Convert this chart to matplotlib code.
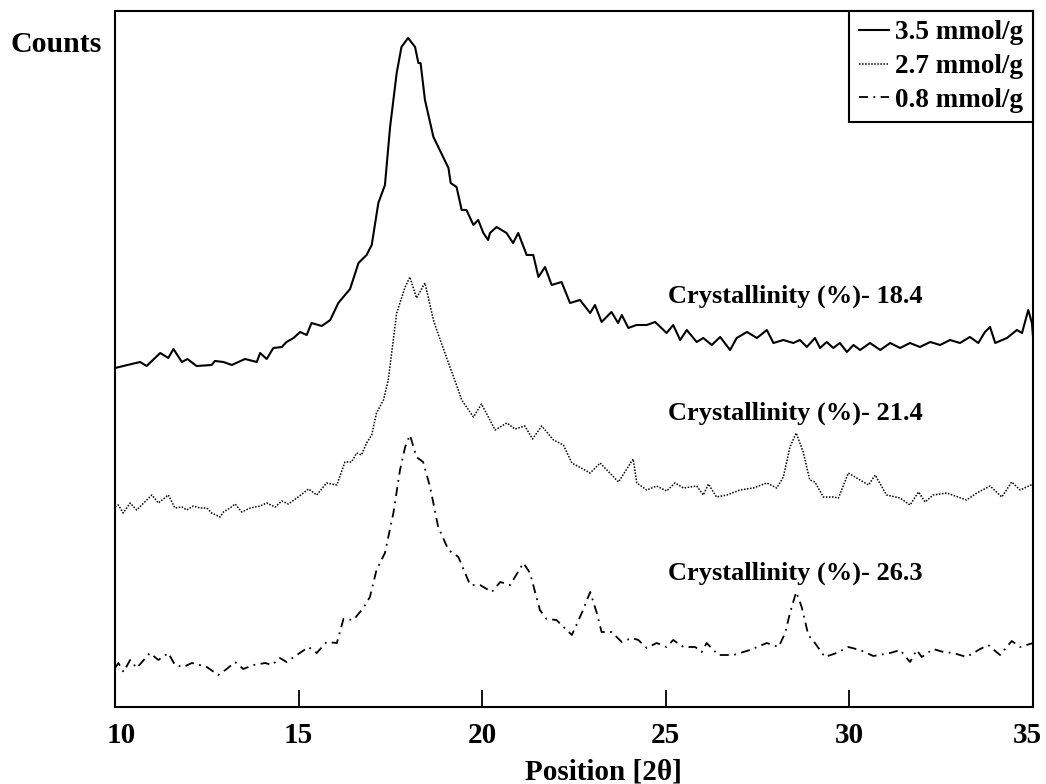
import matplotlib
matplotlib.use('Agg')
import matplotlib.pyplot as plt
import matplotlib.transforms as mtransforms

plt.rcParams['font.family'] = ['Liberation Serif', 'DejaVu Serif']
plt.rcParams['font.weight'] = 'bold'

# XRD patterns (stacked, arbitrary counts)
x_35 = [10.00, 10.68, 10.86, 11.23, 11.45, 11.59, 11.82, 11.97, 12.22, 12.63,
        12.72, 12.95, 13.18, 13.54, 13.86, 13.95, 14.13, 14.31, 14.54, 14.67,
        14.86, 15.04, 15.22, 15.35, 15.63, 15.86, 16.08, 16.40, 16.63, 16.85,
        16.99, 17.17, 17.35, 17.49, 17.67, 17.80, 17.98, 18.17, 18.26, 18.32,
        18.44, 18.67, 19.08, 19.14, 19.30, 19.44, 19.57, 19.76, 19.89, 20.03,
        20.16, 20.21, 20.39, 20.66, 20.84, 20.98, 21.21, 21.39, 21.53, 21.71,
        21.89, 22.16, 22.39, 22.66, 22.94, 23.07, 23.25, 23.52, 23.70, 23.80,
        23.98, 24.20, 24.48, 24.71, 25.02, 25.20, 25.39, 25.57, 25.84, 26.02,
        26.25, 26.48, 26.75, 26.93, 27.21, 27.48, 27.75, 27.93, 28.20, 28.47,
        28.65, 28.84, 29.06, 29.20, 29.38, 29.56, 29.74, 29.93, 30.11, 30.29,
        30.56, 30.84, 31.11, 31.38, 31.65, 31.92, 32.20, 32.47, 32.74, 33.01,
        33.28, 33.51, 33.69, 33.83, 33.97, 34.29, 34.56, 34.70, 34.87, 34.97,
        35.00]
y_35 = [339, 345, 341, 354, 349, 358, 345, 348, 341, 342,
        346, 345, 342, 348, 345, 354, 348, 359, 360, 365,
        369, 375, 372, 384, 381, 387, 404, 418, 444, 452,
        462, 504, 522, 580, 634, 660, 669, 660, 644, 644,
        607, 570, 539, 524, 520, 497, 497, 482, 487, 474,
        467, 474, 480, 474, 464, 474, 452, 452, 430, 440,
        422, 425, 404, 407, 394, 402, 385, 395, 384, 392,
        379, 382, 382, 385, 374, 382, 367, 377, 365, 369,
        362, 370, 357, 369, 375, 369, 377, 364, 367, 364,
        367, 360, 369, 359, 365, 359, 364, 355, 362, 357,
        364, 357, 364, 359, 364, 360, 365, 362, 367, 364,
        370, 364, 375, 380, 364, 369, 377, 374, 397, 384,
        370]

x_27 = [10.00, 10.09, 10.22, 10.41, 10.59, 11.00, 11.18, 11.45, 11.63, 11.82,
        11.95, 12.13, 12.31, 12.50, 12.63, 12.86, 12.95, 13.13, 13.27, 13.45,
        13.68, 13.95, 14.13, 14.36, 14.54, 14.72, 14.95, 15.27, 15.49, 15.76,
        16.04, 16.26, 16.44, 16.58, 16.71, 16.85, 16.99, 17.12, 17.31, 17.44,
        17.67, 17.90, 18.03, 18.21, 18.44, 18.67, 18.76, 19.08, 19.30, 19.44,
        19.76, 19.98, 20.35, 20.67, 20.89, 21.16, 21.37, 21.62, 21.94, 22.21,
        22.44, 22.94, 23.21, 23.71, 24.11, 24.21, 24.48, 24.75, 25.02, 25.25,
        25.48, 25.84, 26.02, 26.16, 26.38, 26.66, 27.02, 27.38, 27.75, 28.02,
        28.20, 28.38, 28.55, 28.74, 28.92, 29.06, 29.29, 29.56, 29.70, 29.97,
        30.29, 30.52, 30.70, 31.01, 31.38, 31.65, 31.88, 32.06, 32.28, 32.65,
        33.19, 33.47, 33.83, 34.15, 34.42, 34.65, 35.00]
y_27 = [200, 202, 194, 204, 197, 212, 204, 212, 199, 200,
        197, 201, 199, 199, 194, 190, 195, 199, 203, 195,
        199, 201, 204, 200, 206, 203, 209, 218, 212, 224,
        222, 245, 245, 254, 252, 264, 272, 294, 307, 327,
        394, 420, 430, 409, 424, 387, 377, 344, 322, 307,
        290, 303, 277, 284, 278, 281, 268, 281, 267, 262,
        244, 234, 244, 225, 248, 224, 217, 221, 216, 224,
        219, 221, 212, 223, 210, 212, 217, 219, 224, 219,
        230, 260, 274, 255, 227, 225, 210, 210, 209, 234,
        227, 222, 232, 212, 209, 202, 215, 205, 212, 214,
        207, 214, 221, 210, 225, 217, 223]

x_08 = [10.00, 10.09, 10.23, 10.41, 10.59, 10.95, 11.18, 11.45, 11.63, 11.86,
        12.09, 12.31, 12.50, 12.81, 13.04, 13.27, 13.49, 13.77, 14.09, 14.27,
        14.49, 14.67, 14.95, 15.27, 15.49, 15.76, 16.04, 16.22, 16.49, 16.76,
        16.94, 17.12, 17.35, 17.58, 17.76, 17.90, 18.03, 18.21, 18.39, 18.58,
        18.80, 19.08, 19.35, 19.67, 19.94, 20.26, 20.49, 20.76, 21.12, 21.30,
        21.57, 21.75, 22.02, 22.44, 22.71, 22.94, 23.12, 23.25, 23.52, 23.80,
        24.07, 24.25, 24.48, 24.75, 25.02, 25.20, 25.48, 25.80, 25.98, 26.11,
        26.43, 26.84, 27.29, 27.75, 28.07, 28.25, 28.38, 28.55, 28.70, 28.88,
        29.06, 29.33, 29.65, 29.97, 30.29, 30.65, 31.11, 31.38, 31.65, 31.83,
        31.97, 32.28, 32.56, 32.83, 33.19, 33.56, 33.78, 34.10, 34.42, 34.65,
        35.00]
y_08 = [39, 44, 35, 47, 39, 54, 47, 54, 42, 40,
        44, 42, 40, 32, 38, 45, 38, 42, 44, 42,
        49, 45, 52, 60, 54, 65, 64, 88, 87, 99,
        110, 137, 154, 194, 237, 260, 272, 250, 245, 220,
        180, 157, 150, 122, 122, 115, 125, 122, 144, 134,
        97, 88, 87, 72, 94, 115, 94, 75, 75, 65,
        69, 67, 59, 64, 60, 67, 60, 60, 55, 64,
        52, 52, 57, 64, 60, 74, 94, 115, 100, 72,
        64, 50, 54, 60, 57, 51, 54, 57, 45, 57,
        50, 58, 55, 54, 50, 58, 62, 52, 66, 60,
        64]

labels = ['3.5 mmol/g', '2.7 mmol/g', '0.8 mmol/g']
crystallinity = ['Crystallinity (%)- 18.4', 'Crystallinity (%)- 21.4', 'Crystallinity (%)- 26.3']
label_y = [411, 294, 134]

fig = plt.figure(figsize=(10.46, 7.84), dpi=100)
ax = fig.add_axes([0.110, 0.0982, 0.8776, 0.8878])

ax.plot(x_35, y_35, color='black', lw=1.5, linestyle='-', label=labels[0])
ax.plot(x_27, y_27, color='black', lw=1.1, linestyle=(0, (1, 1)), label=labels[1])
ax.plot(x_08, y_08, color='black', lw=1.3, linestyle=(0, (5, 3, 1, 3)), label=labels[2])

for txt, yy in zip(crystallinity, label_y):
    ax.text(25.06, yy, txt, fontsize=19, fontweight='bold', ha='left', va='center')

ax.set_xlim(10, 35)
ax.set_ylim(0, 696)
ax.set_xticks([10, 15, 20, 25, 30, 35])
ax.set_yticks([])
ax.tick_params(axis='x', direction='in', length=12, width=1.3, labelsize=21, pad=11)
for lbl in ax.get_xticklabels():
    lbl.set_fontweight('bold')
for s in ax.spines.values():
    s.set_linewidth(1.5)

# nudge the edge tick labels inward like the original
ticklabels = ax.get_xticklabels()
ticklabels[0].set_transform(ticklabels[0].get_transform() +
                            mtransforms.ScaledTranslation(6 / 100, 0, fig.dpi_scale_trans))
ticklabels[-1].set_transform(ticklabels[-1].get_transform() +
                             mtransforms.ScaledTranslation(-6 / 100, 0, fig.dpi_scale_trans))

fig.text(603 / 1046, 1 - 772 / 784, 'Position [2θ]', fontsize=21, fontweight='bold',
         ha='center', va='center')
fig.text(56 / 1046, 1 - 44 / 784, 'Counts', fontsize=21.5, fontweight='bold',
         ha='center', va='center')

leg = ax.legend(loc='upper right', borderaxespad=0, fancybox=False, frameon=True,
                prop={'size': 19.5, 'weight': 'bold'}, handlelength=1.1,
                handletextpad=0.25, labelspacing=0.32, borderpad=0.35)
leg.get_frame().set_edgecolor('black')
leg.get_frame().set_linewidth(1.5)
leg.get_frame().set_alpha(1)

fig.savefig('out.png', dpi=100)
